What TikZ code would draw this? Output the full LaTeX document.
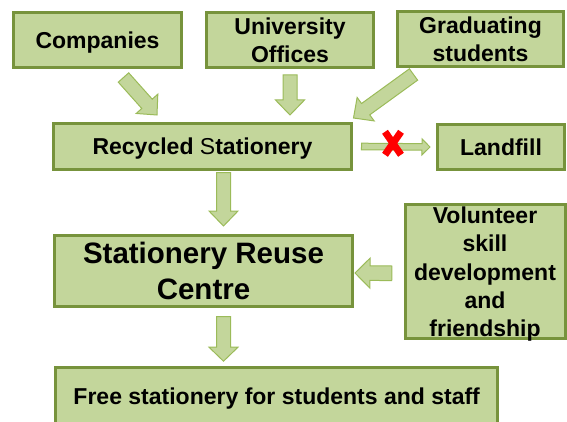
\documentclass[tikz,border=0pt]{standalone}
\usepackage{fontspec}
\setmainfont{Liberation Sans}
\usetikzlibrary{calc}
\definecolor{boxfill}{HTML}{C3D69B}
\definecolor{boxline}{HTML}{77933C}
\definecolor{arrowline}{HTML}{9BBB59}
% block arrow: shaft half width, head half width, head length, from, to
\newcommand{\blockarrow}[5]{%
    \coordinate (ba-s) at (#4);
    \coordinate (ba-e) at (#5);
    \coordinate (ba-h) at ($(ba-e)!#3!(ba-s)$);
    \draw[arrowbody] ($(ba-s)!#1!90:(ba-e)$) -- ($(ba-h)!#1!90:(ba-e)$)
        -- ($(ba-h)!#2!90:(ba-e)$) -- (ba-e) -- ($(ba-h)!#2!-90:(ba-e)$)
        -- ($(ba-h)!#1!-90:(ba-e)$) -- ($(ba-s)!#1!-90:(ba-e)$) -- cycle;
}
\begin{document}
\begin{tikzpicture}[x=1pt,y=1pt,
        box/.style={draw=boxline, fill=boxfill, line width=3pt, inner sep=0pt,
            align=center, font=\bfseries\fontsize{23}{28}\selectfont},
        oneline/.style={box, text depth=0pt},
        arrowbody/.style={draw=arrowline, fill=boxfill, line width=1pt, line join=miter},
        crossline/.style={red, line width=7pt}]
            \useasboundingbox (0,0) rectangle (567,421);
            % sources
            \node[oneline, minimum width=168pt, minimum height=55pt] (companies) at (97.5,381) {Companies};
            \node[box, minimum width=167pt, minimum height=55pt] (offices) at (290,381) {University\\Offices};
            \node[box, minimum width=166pt, minimum height=55pt] (graduates) at (480.5,381.5) {Graduating\\students};
            \node[oneline, minimum width=298pt, minimum height=46pt] (recycled) at (202.5,274.5) {Recycled {\mdseries S}tationery};
            \node[oneline, minimum width=127pt, minimum height=45pt] (landfill) at (501,274) {Landfill};
            \node[box, minimum width=298pt, minimum height=71pt, font=\bfseries\fontsize{29.5}{36.5}\selectfont]
                (reuse) at (203.5,150) {Stationery Reuse\\Centre};
            \node[box, minimum width=160pt, minimum height=134pt, font=\bfseries\fontsize{23}{28.4}\selectfont]
                (volunteer) at (485,149.7)
                {\rule{0pt}{19pt}Volunteer\\skill\\development\\and\\\raisebox{0pt}[\height][1.4pt]{friendship}};
            \node[oneline, minimum width=442pt, minimum height=57pt] (free) at (276.7,25) {Free stationery for students and staff};
            % arrows
            \blockarrow{7pt}{14.5pt}{15pt}{[xshift=26pt,yshift=-8.5pt]companies.south}{[xshift=-45.5pt,yshift=7pt]recycled.north}
            \blockarrow{7pt}{14.5pt}{15pt}{[yshift=-6pt]offices.south}{[xshift=87.5pt,yshift=7pt]recycled.north}
            \blockarrow{7pt}{14.5pt}{15pt}{[xshift=-67pt,yshift=-6pt]graduates.south}{[xshift=0.5pt,yshift=4pt]recycled.north east}
            \blockarrow{3.3pt}{8pt}{8pt}{[xshift=8.5pt]recycled.east}{[xshift=-6pt]landfill.west}
            \blockarrow{7pt}{14.5pt}{15pt}{[xshift=21pt,yshift=-1.5pt]recycled.south}{[xshift=20pt,yshift=8pt]reuse.north}
            \blockarrow{7.3pt}{15pt}{15pt}{[xshift=-11.7pt,yshift=-2pt]volunteer.west}{[xshift=1pt,yshift=-2pt]reuse.east}
            \blockarrow{7pt}{14.5pt}{14pt}{[xshift=20pt,yshift=-8.5pt]reuse.south}{[xshift=-53.2pt,yshift=4.8pt]free.north}
            % crossed out
            \coordinate (cross) at (393,277.7);
            \draw[crossline] ([shift={(-8,11.5)}]cross) -- ([shift={(8,-11.5)}]cross);
            \draw[crossline] ([shift={(8,11.5)}]cross) -- ([shift={(-8,-11.5)}]cross);
        \end{tikzpicture}
\end{document}
